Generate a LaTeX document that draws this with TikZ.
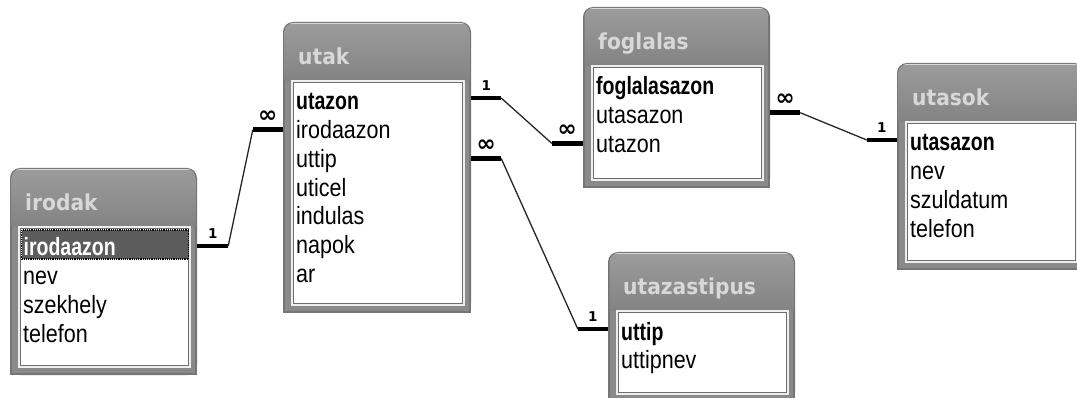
\documentclass[tikz,border=0pt]{standalone}
\usepackage{fontspec}
\setmainfont{Liberation Sans}
\newfontfamily\fieldfont{Liberation Sans}[FakeStretch=0.86]
\newfontfamily\keyfont{Liberation Sans}[FakeStretch=0.78]
\newfontfamily\titlefont{DejaVu Sans}[FakeStretch=0.92]
\newfontfamily\markfont{DejaVu Sans}
\usetikzlibrary{fit,calc}

\definecolor{framegray}{HTML}{8A8A8A}
\definecolor{headtop}{HTML}{9C9C9C}
\definecolor{headbot}{HTML}{838383}
\definecolor{edgegray}{HTML}{757575}
\definecolor{titlegray}{HTML}{D8D8D8}
\definecolor{selgray}{HTML}{5C5C5C}
\definecolor{innerline}{HTML}{6E6E6E}
\definecolor{innerlight}{HTML}{EEEEEE}

\tikzset{
  fieldplain/.style={anchor=base west, inner sep=0pt, text=black,
    font=\fieldfont\fontsize{25}{25}\selectfont},
  fieldkey/.style={fieldplain, font=\keyfont\bfseries\fontsize{25}{25}\selectfont},
  fieldsel/.style={fieldkey, text=white, fill=selgray, draw=black, densely dotted,
    line width=1.2pt, xshift=-2pt, inner xsep=2pt, text width=163pt,
    text height=26pt, text depth=3pt, align=left},
  tabletitle/.style={anchor=base west, inner sep=0pt, text=titlegray,
    font=\titlefont\bfseries\fontsize{22}{22}\selectfont},
  stub/.style={line width=4.5pt, black},
  link/.style={line width=1.3pt, black!85},
  onelabel/.style={midway, yshift=12.5pt, inner sep=0pt,
    font=\markfont\bfseries\fontsize{13.5}{13.5}\selectfont},
  manylabel/.style={midway, yshift=13pt, inner sep=0pt,
    font=\markfont\bfseries\fontsize{23}{23}\selectfont},
}

% table: name, x1, y1, x2, y2, title, list of style/field
\newcommand\erbox[7]{%
  \coordinate (#1-nw) at (#2,#3);
  \coordinate (#1-se) at (#4,#5);
  \node[fit=(#1-nw)(#1-se), inner sep=0pt] (#1) {};
  \fill[edgegray, rounded corners=10pt] (#2,#3) rectangle (#4,#5);
  \fill[edgegray] ({#2},{#3+20}) rectangle (#4,#5);
  \fill[framegray] ({#2+2},{#3+20}) rectangle ({#4-2},{#5-2});
  \begin{scope}
    \clip[rounded corners=9pt] ({#2+1.5},{#3+1}) rectangle ({#4-1.5},{#5-2});
    \shade[top color=headtop, bottom color=headbot] (#2,#3) rectangle ({#4},{#3+59});
    \draw[white!70!gray, line width=1.5pt] (#2,{#3+1.5}) -- (#4,{#3+1.5});
  \end{scope}
  \fill[white] ({#2+9},{#3+59}) rectangle ({#4-7},{#5-8});
  \draw[innerlight, line width=1.5pt] ({#2+9},{#3+59}) rectangle ({#4-7},{#5-8});
  \draw[innerline, line width=1pt] ({#2+10.5},{#3+60.5}) rectangle ({#4-8.5},{#5-9.5});
  \node[tabletitle] (#1-title) at ({#2+15},{#3+42.5}) {#6};
  \foreach \fsty/\fname [count=\fidx] in {#7} {
    \node[\fsty] (#1-\fidx) at ({#2+13},{#3+88+(\fidx-1)*28.7}) {\fname};
  }
}

\begin{document}
\begin{tikzpicture}[x=1pt,y=-1pt]
\useasboundingbox (0,0) rectangle (1077,398);
\clip (0,0) rectangle (1077,398);
\fill[white] (0,0) rectangle (1077,398);

\erbox{irodak}{10}{168}{197}{375}{irodak}{fieldsel/irodaazon, fieldplain/nev, fieldplain/szekhely, fieldplain/telefon}
\erbox{utak}{283}{22}{471}{313}{utak}{fieldkey/utazon, fieldplain/irodaazon, fieldplain/uttip, fieldplain/uticel, fieldplain/indulas, fieldplain/napok, fieldplain/ar}
\erbox{foglalas}{583}{7}{770}{188}{foglalas}{fieldkey/foglalasazon, fieldplain/utasazon, fieldplain/utazon}
\erbox{utasok}{897}{63}{1084}{270}{utasok}{fieldkey/utasazon, fieldplain/nev, fieldplain/szuldatum, fieldplain/telefon}
\erbox{utazastipus}{608}{252}{795}{402}{utazastipus}{fieldkey/uttip, fieldplain/uttipnev}

% irodak 1 -- many utak
\draw[stub] ($(irodak.east |- irodak-1.base)+(0,-10)$) -- node[onelabel]{1} ++(31,0) coordinate (r1a);
\draw[stub] ($(utak.west |- utak-2.base)+(0,-9)$) -- node[manylabel]{∞} ++(-30,0) coordinate (r1b);
\draw[link] (r1a) -- (r1b);

% utak 1 -- many foglalas
\draw[stub] ($(utak.east |- utak-1.base)+(0,-12)$) -- node[onelabel]{1} ++(30,0) coordinate (r2a);
\draw[stub] ($(foglalas.west |- foglalas-3.base)+(0,-9)$) -- node[manylabel]{∞} ++(-31,0) coordinate (r2b);
\draw[link] (r2a) -- (r2b);

% utazastipus 1 -- many utak
\draw[stub] ($(utak.east |- utak-3.base)+(0,-9)$) -- node[manylabel]{∞} ++(30,0) coordinate (r3a);
\draw[stub] ($(utazastipus.west |- utazastipus-1.base)+(0,-11)$) -- node[onelabel]{1} ++(-30,0) coordinate (r3b);
\draw[link] (r3a) -- (r3b);

% utasok 1 -- many foglalas
\draw[stub] ($(foglalas.east |- foglalas-2.base)+(0,-11)$) -- node[manylabel]{∞} ++(30,0) coordinate (r4a);
\draw[stub] ($(utasok.west |- utasok-1.base)+(0,-11)$) -- node[onelabel]{1} ++(-30,0) coordinate (r4b);
\draw[link] (r4a) -- (r4b);
\end{tikzpicture}
\end{document}
